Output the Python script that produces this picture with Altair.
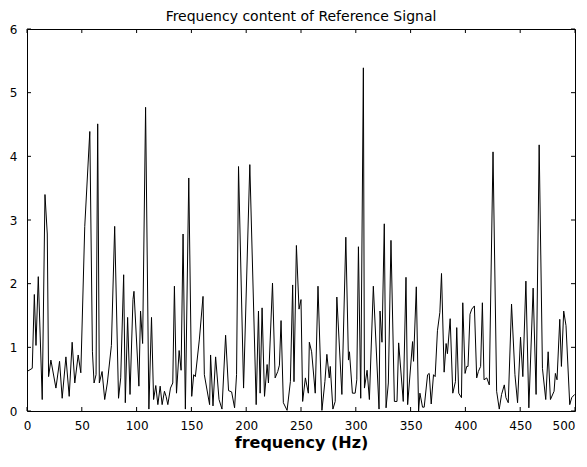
import altair as alt
import pandas as pd

# Frequency (Hz) and amplitude
freq = [0, 4.8, 6.7, 8.2, 10.3, 13.9, 16.4, 18.5, 19.7, 21.8, 26.4, 29.7, 32.1, 35.5, 38.5,
        41.2, 43.6, 46.7, 49.1, 52.7, 57.3, 59.7, 61.2, 63.0, 64.5, 66.0, 68.5, 70.9, 73.3,
        77.0, 80.0, 83.5, 85.5, 88.2, 89.7, 91.8, 94.0, 96.7, 97.6, 102.1, 103.6, 105.5,
        108.2, 111.2, 113.6, 115.5, 117.5, 119.4, 121.5, 123.3, 125.4, 126.9, 128.5, 130.9,
        133.0, 134.5, 136.4, 138.8, 140.6, 142.4, 144.5, 147.6, 150.3, 152.1, 153.6, 157.3,
        160.6, 161.8, 166.6, 167.5, 169.7, 172.1, 175.2, 177.9, 181.2, 183.9, 186.7, 189.4,
        191.2, 193.0, 197.6, 203.3, 209.1, 211.2, 212.7, 214.5, 216.7, 219.1, 220.3, 224.0,
        226.4, 228.8, 230.3, 231.8, 233.9, 237.3, 240.3, 242.4, 243.6, 245.8, 248.2, 250.0,
        251.5, 254.0, 256.7, 257.6, 259.7, 263.0, 265.5, 269.1, 271.8, 273.6, 275.8, 276.7,
        279.1, 281.2, 282.7, 287.3, 290.9, 293.3, 294.2, 296.9, 299.4, 300.9, 302.4, 304.5,
        306.9, 307.9, 310.3, 312.4, 316.0, 321.2, 322.1, 323.9, 326.0, 327.6, 329.7, 332.1,
        335.2, 337.6, 339.1, 343.3, 345.8, 347.3, 351.8, 352.7, 355.2, 357.3, 358.5, 360.9,
        362.4, 365.5, 367.0, 368.8, 370.9, 372.4, 374.5, 376.7, 378.2, 380.6, 382.4, 383.6,
        386.1, 388.5, 390.9, 392.1, 393.9, 396.4, 397.6, 399.7, 401.2, 402.4, 404.2, 405.8,
        408.2, 410.3, 411.8, 413.9, 415.5, 417.0, 419.5, 421.8, 425.2, 428.5, 430.9, 433.0,
        435.5, 437.0, 439.1, 442.1, 445.2, 447.6, 450.3, 452.4, 455.2, 457.9, 461.8, 464.5,
        467.3, 470.3, 473.3, 475.5, 477.6, 480.9, 482.1, 483.6, 486.1, 487.6, 489.7, 491.8,
        495.2, 497.0, 499.7]
amp = [0.62, 0.67, 1.83, 1.03, 2.11, 0.18, 3.40, 2.78, 0.54, 0.80, 0.36, 0.78, 0.20, 0.85, 0.23,
       1.08, 0.44, 0.88, 0.60, 2.90, 4.39, 0.93, 0.44, 0.57, 4.51, 0.44, 0.62, 0.18, 0.44,
       1.03, 2.90, 0.20, 0.52, 2.14, 0.13, 1.47, 0.26, 1.75, 1.88, 0.39, 1.57, 1.06,
       4.77, 0.03, 1.47, 0.18, 0.40, 0.10, 0.39, 0.10, 0.31, 0.23, 0.10, 0.36,
       0.44, 1.96, 0.28, 0.95, 0.64, 2.78, 0.03, 3.66, 0.23, 0.57, 0.54, 1.13,
       1.80, 0.57, 0.10, 0.88, 0.08, 0.85, 0.18, 0.03, 1.19, 0.32, 0.30, 0.05,
       0.57, 3.84, 0.36, 3.87, 0.10, 1.57, 0.28, 1.62, 0.23, 0.73, 0.44, 2.01,
       0.52, 0.62, 0.72, 1.42, 0.13, 0.01, 0.46, 1.98, 0.46, 2.60, 1.60, 1.75,
       0.15, 0.52, 0.28, 1.08, 0.93, 0.28, 1.96, 0.01, 0.46, 0.89, 0.52, 0.70,
       0.03, 0.15, 1.79, 0.26, 2.73, 0.80, 0.93, 0.28, 0.28, 0.49, 2.58, 0.20,
       5.39, 0.36, 0.64, 0.18, 1.96, 0.03, 1.57, 1.08, 2.94, 0.05, 0.44, 2.68,
       0.15, 0.15, 1.07, 0.15, 2.10, 0.10, 1.09, 0.78, 1.95, 0.00, 0.28, 0.06,
       0.06, 0.57, 0.59, 0.11, 0.57, 0.54, 1.26, 1.55, 2.16, 0.61, 1.06, 0.90,
       1.45, 0.28, 0.46, 1.31, 0.28, 0.21, 1.70, 0.59, 0.70, 0.70, 1.52, 1.60,
       1.65, 0.52, 0.62, 0.70, 1.70, 0.49, 0.52, 0.41, 4.07, 0.31, 0.03, 0.26,
       0.41, 0.21, 0.13, 1.68, 0.57, 0.13, 1.16, 0.54, 2.04, 0.05, 1.93, 0.26,
       4.18, 0.67, 0.18, 0.93, 0.18, 0.31, 0.59, 0.49, 1.44, 0.70, 1.57, 1.34,
       0.10, 0.21, 0.26]

x_ticks = [0, 50, 100, 150, 200, 250, 300, 350, 400, 450, 500]
y_ticks = [0, 1, 2, 3, 4, 5, 6]

W, H = 548, 382
TL = 4  # inward tick length in px

df = pd.DataFrame({"freq": freq, "amp": amp})
xt = pd.DataFrame({"freq": x_ticks})
yt = pd.DataFrame({"amp": y_ticks})

xs = alt.Scale(domain=[0, 500], nice=False, zero=False)
ys = alt.Scale(domain=[0, 6], nice=False, zero=False)

x_axis = alt.Axis(values=x_ticks, title="frequency (Hz)", labelPadding=9, labelFlush=False,
                  labelAlign=alt.ExprRef("datum.value >= 500 ? 'right' : 'center'"),
                  titleFont="DejaVu Sans", titleFontSize=16, titleFontWeight="bold",
                  titlePadding=3, titleColor="black")
y_axis = alt.Axis(values=y_ticks, title=None, labelPadding=10, labelFlush=False)

line = alt.Chart(df).mark_line(color="black", strokeWidth=1).encode(
    x=alt.X("freq:Q", scale=xs, axis=x_axis),
    y=alt.Y("amp:Q", scale=ys, axis=y_axis),
)

bottom_ticks = alt.Chart(xt).mark_rule(color="black", strokeWidth=1).encode(
    x=alt.X("freq:Q", scale=xs, axis=x_axis), y=alt.value(H - TL), y2=alt.value(H))
top_ticks = alt.Chart(xt).mark_rule(color="black", strokeWidth=1).encode(
    x=alt.X("freq:Q", scale=xs, axis=x_axis), y=alt.value(0), y2=alt.value(TL))
left_ticks = alt.Chart(yt).mark_rule(color="black", strokeWidth=1).encode(
    y=alt.Y("amp:Q", scale=ys, axis=y_axis), x=alt.value(0), x2=alt.value(TL))
right_ticks = alt.Chart(yt).mark_rule(color="black", strokeWidth=1).encode(
    y=alt.Y("amp:Q", scale=ys, axis=y_axis), x=alt.value(W - TL), x2=alt.value(W))

chart = alt.layer(line, bottom_ticks, top_ticks, left_ticks, right_ticks).properties(
    width=W, height=H,
    title=alt.TitleParams("Frequency content of Reference Signal", font="DejaVu Sans",
                          fontSize=14, fontWeight="normal", offset=3, dy=4, anchor="middle",
                          color="black"),
    autosize=alt.AutoSizeParams(type="none"),
    padding={"left": 19, "top": 21, "right": 4, "bottom": 42},
    background="white",
).configure_view(
    stroke="black", strokeWidth=1
).configure_axis(
    domain=False, grid=False, ticks=False, tickSize=0,
    labelFont="DejaVu Sans", labelFontSize=12, labelColor="black",
)

chart.save("out.html", embed_options={"renderer": "svg", "actions": False})
